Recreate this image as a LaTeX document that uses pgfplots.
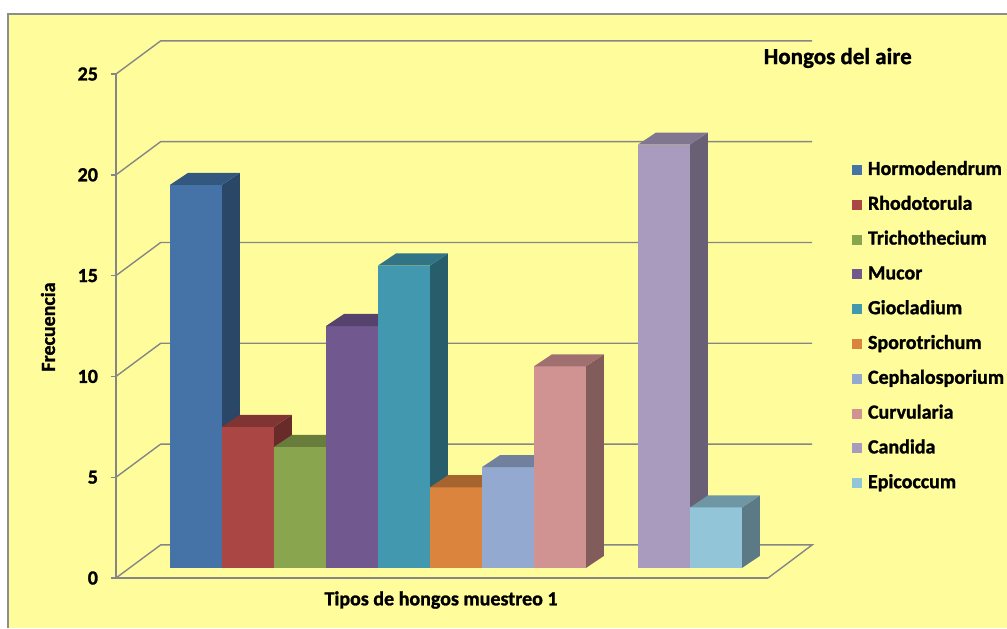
\documentclass[border=0pt]{standalone}
\usepackage{pgfplots}
\usepackage{pgfplotstable}
\pgfplotsset{compat=1.18}
\usepackage{fontspec}
\setmainfont{Carlito}[BoldFeatures={FakeBold=1.3}]
\definecolor{bg}{RGB}{255,253,155}
\definecolor{gridc}{RGB}{134,134,134}
\definecolor{framec}{RGB}{140,140,140}
\definecolor{c1}{RGB}{69,114,167}
\definecolor{c2}{RGB}{170,70,67}
\definecolor{c3}{RGB}{137,165,78}
\definecolor{c4}{RGB}{113,88,143}
\definecolor{c5}{RGB}{65,152,175}
\definecolor{c6}{RGB}{219,132,61}
\definecolor{c7}{RGB}{147,169,207}
\definecolor{c8}{RGB}{209,147,146}
\definecolor{c9}{RGB}{169,155,189}
\definecolor{c10}{RGB}{146,197,216}

\pgfplotstableread{
a b
0 0
1 0
1 1
0 1
}\sq

% #1 slot, #2 value, #3 colour
\newcommand{\barthree}[3]{%
 \addplot[fill=#3, draw=none, forget plot] table[x expr={#1+\thisrow{a}}, y expr={0.5+#2*\thisrow{b}}] {\sq};
 \addplot[fill=#3!62!black, draw=none, forget plot] table[x expr={#1+1+0.346*\thisrow{a}}, y expr={0.5+0.597*\thisrow{a}+#2*\thisrow{b}}] {\sq};
 \addplot[fill=#3!76!black, draw=none, forget plot] table[x expr={#1+\thisrow{a}+0.346*\thisrow{b}}, y expr={0.5+#2+0.597*\thisrow{b}}] {\sq};
}

\begin{document}
\begin{tikzpicture}
\begin{scope}[x=0.5pt,y=-0.5pt,xshift=-58pt,yshift=289pt]
\useasboundingbox (0,0) rectangle (1007,628);
\fill[white] (0,0) rectangle (1007,628);
\fill[bg] (8,14) rectangle (1007,628);
\draw[framec, line width=0.8pt] (8,628) -- (8,14) -- (1007,14);
\end{scope}
\begin{axis}[
 scale only axis, width=326pt, height=252pt,
 xmin=-1.0385, xmax=11.5, ymin=0, ymax=25,
 clip=false,
 axis lines=left, axis line style={-, gridc, line width=0.7pt},
 xtick=\empty, ytick={0,5,...,25},
 tick align=outside, major tick length=2.5pt,
 tick style={gridc, line width=0.7pt},
 /pgf/number format/assume math mode=true,
 yticklabel style={font=\bfseries\fontsize{10}{12}\selectfont, black, xshift=-3pt},
 ylabel={Frecuencia}, xlabel={Tipos de hongos muestreo 1},
 label style={font=\bfseries\fontsize{10}{12}\selectfont},
 ylabel style={at={(rel axis cs:-0.1043,0.498)}, anchor=center},
 xlabel style={at={(rel axis cs:0.4985,-0.0437)}, anchor=center},
 title={Hongos del aire},
 title style={at={(rel axis cs:1.107,1.008)}, anchor=center, font=\bfseries\fontsize{11.5}{13}\selectfont},
 legend image code/.code={\fill[#1, draw=none] (0pt,-2.5pt) rectangle (5pt,2.5pt);},
 legend cell align=left,
 legend style={at={(rel axis cs:1.1288,0.8274)}, anchor=north west, draw=none, fill=none,
   inner sep=0pt, outer sep=0pt, row sep=8.4pt, column sep=3pt,
   font=\bfseries\fontsize{10}{12}\selectfont,
   nodes={inner sep=0pt, text height=7pt, text depth=2pt}},
]
% floor and back wall
\draw[gridc, line width=0.7pt] (axis cs:-1.0385,0) -- (axis cs:-0.18,1.642) -- (axis cs:12.35,1.642) -- (axis cs:11.5,0);
\draw[gridc, line width=0.7pt] (axis cs:-1.0385,5) -- (axis cs:-0.18,6.642) -- (axis cs:12.35,6.642);
\draw[gridc, line width=0.7pt] (axis cs:-1.0385,10) -- (axis cs:-0.18,11.642) -- (axis cs:12.35,11.642);
\draw[gridc, line width=0.7pt] (axis cs:-1.0385,15) -- (axis cs:-0.18,16.642) -- (axis cs:12.35,16.642);
\draw[gridc, line width=0.7pt] (axis cs:-1.0385,20) -- (axis cs:-0.18,21.642) -- (axis cs:12.35,21.642);
\draw[gridc, line width=0.7pt] (axis cs:-1.0385,25) -- (axis cs:-0.18,26.642) -- (axis cs:12.35,26.642);

\barthree{0}{19}{c1}
\barthree{1}{7}{c2}
\barthree{2}{6}{c3}
\barthree{3}{12}{c4}
\barthree{4}{15}{c5}
\barthree{5}{4}{c6}
\barthree{6}{5}{c7}
\barthree{7}{10}{c8}
\barthree{9}{21}{c9}
\barthree{10}{3}{c10}

\addlegendimage{fill=c1}\addlegendentry{Hormodendrum}
\addlegendimage{fill=c2}\addlegendentry{Rhodotorula}
\addlegendimage{fill=c3}\addlegendentry{Trichothecium}
\addlegendimage{fill=c4}\addlegendentry{Mucor}
\addlegendimage{fill=c5}\addlegendentry{Giocladium}
\addlegendimage{fill=c6}\addlegendentry{Sporotrichum}
\addlegendimage{fill=c7}\addlegendentry{Cephalosporium}
\addlegendimage{fill=c8}\addlegendentry{Curvularia}
\addlegendimage{fill=c9}\addlegendentry{Candida}
\addlegendimage{fill=c10}\addlegendentry{Epicoccum}
\end{axis}
\end{tikzpicture}
\end{document}
